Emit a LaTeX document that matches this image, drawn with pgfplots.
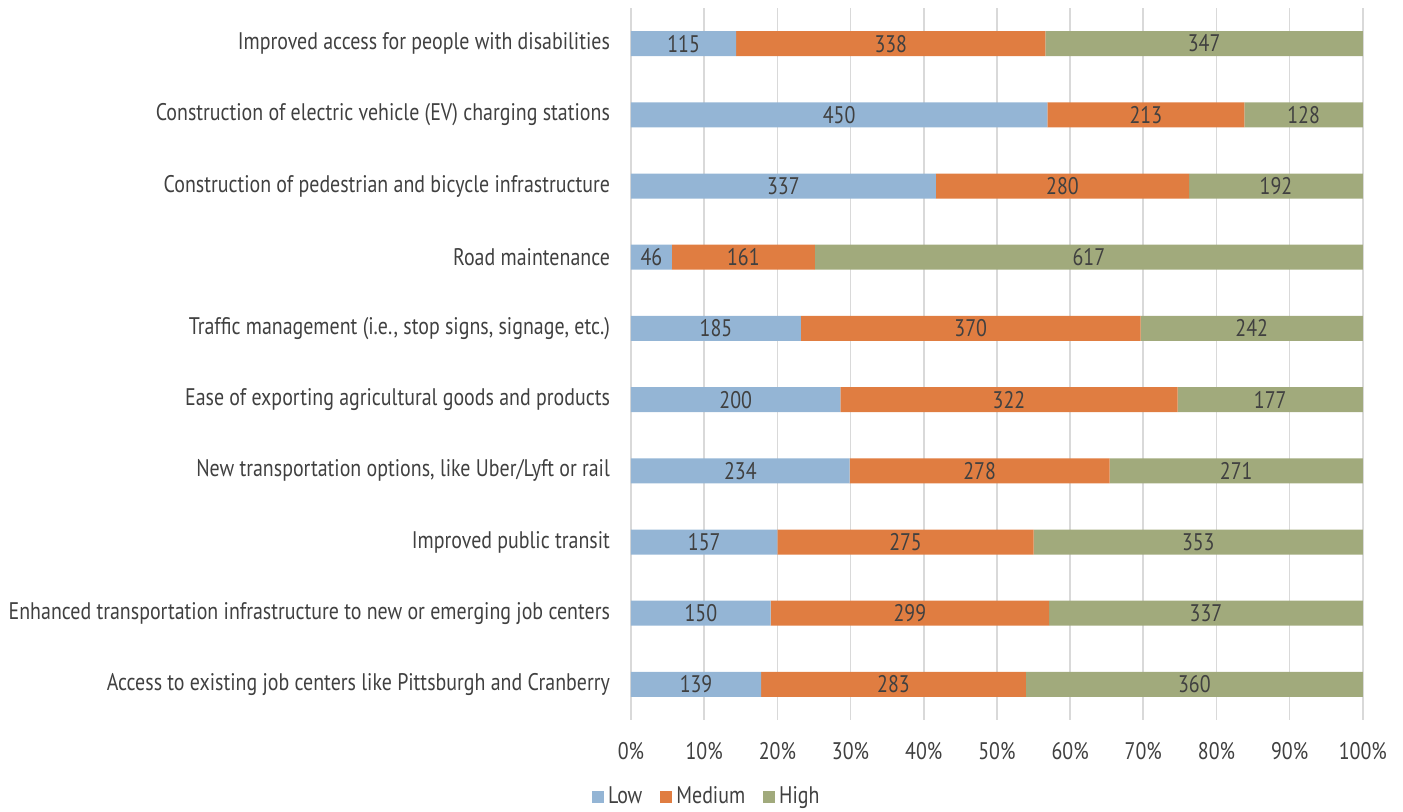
\documentclass[border=0pt]{standalone}
\usepackage{pgfplots}
\usepackage{pgfplotstable}
\pgfplotsset{compat=1.18}
\usepackage{fontspec}
\setmainfont{PT Sans}[FakeStretch=0.83]

\definecolor{lowc}{HTML}{94B5D5}
\definecolor{medc}{HTML}{E07D41}
\definecolor{highc}{HTML}{A1AA7C}
\definecolor{gridc}{HTML}{D9D9D9}
\definecolor{txt}{HTML}{404040}

% Priority ratings per transportation need (counts of responses)
\pgfplotstableread{
idx low med high
0 115 338 347
1 450 213 128
2 337 280 192
3 46 161 617
4 185 370 242
5 200 322 177
6 234 278 271
7 157 275 353
8 150 299 337
9 139 283 360
}\ratings

\begin{document}
\begin{tikzpicture}
\useasboundingbox (-315.5pt,-45.5pt) rectangle (386pt,360pt);
\begin{axis}[
  scale only axis,
  width=366pt, height=356pt,
  xbar stacked,
  bar width=12.5pt,
  y dir=reverse,
  xmin=0, xmax=100.02,
  ymin=-0.5, ymax=9.5,
  xtick={0,10,...,100},
  ytick={0,...,9},
  yticklabels={
    Improved access for people with disabilities,
    Construction of electric vehicle (EV) charging stations,
    Construction of pedestrian and bicycle infrastructure,
    Road maintenance,
    {Traffic management (i.e., stop signs, signage, etc.)},
    Ease of exporting agricultural goods and products,
    {New transportation options, like Uber/Lyft or rail},
    Improved public transit,
    Enhanced transportation infrastructure to new or emerging job centers,
    Access to existing job centers like Pittsburgh and Cranberry},
  xticklabel={\pgfmathprintnumber{\tick}\%},
  /pgf/number format/assume math mode=true,
  xmajorgrids,
  grid style={gridc, line width=0.8pt},
  axis line style={draw=none},
  major tick style={draw=none},
  tick label style={font=\fontsize{12}{14}\selectfont, text=txt},
  xticklabel style={yshift=-7.5pt},
  yticklabel style={xshift=-7pt},
  nodes near coords,
  point meta=explicit,
  every node near coord/.append style={font=\fontsize{12}{14}\selectfont, text=txt, anchor=center},
  legend columns=-1,
  legend style={draw=none, at={(axis description cs:0.105,-0.108)}, anchor=center,
    font=\fontsize{12}{14}\selectfont, text=txt,
    /tikz/every even column/.append style={column sep=7pt}},
  legend image code/.code={\fill[#1] (0pt,-3pt) rectangle (6pt,3pt);},
]
% segment lengths are each rating's share of the row total, in percent
\addplot[fill=lowc, draw=none]
  table[y=idx, x expr={\thisrow{low}*100/(\thisrow{low}+\thisrow{med}+\thisrow{high})}, meta=low] {\ratings};
\addplot[fill=medc, draw=none]
  table[y=idx, x expr={\thisrow{med}*100/(\thisrow{low}+\thisrow{med}+\thisrow{high})}, meta=med] {\ratings};
\addplot[fill=highc, draw=none]
  table[y=idx, x expr={\thisrow{high}*100/(\thisrow{low}+\thisrow{med}+\thisrow{high})}, meta=high] {\ratings};
\legend{Low, Medium, High}
\end{axis}
\end{tikzpicture}
\end{document}
